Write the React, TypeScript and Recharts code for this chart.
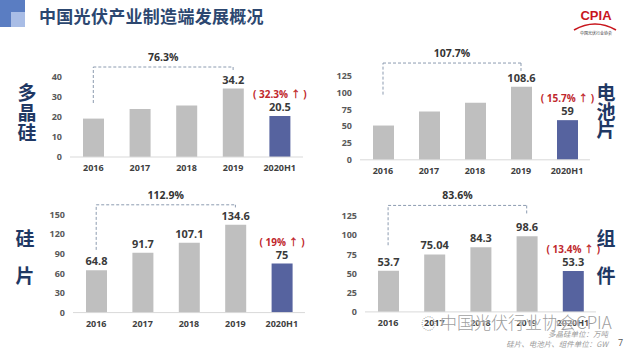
import React from 'react';
import { BarChart, Bar, XAxis, YAxis, Cell, LabelList, ReferenceLine } from 'recharts';

const years = ['2016', '2017', '2018', '2019', '2020H1'];

const polysiliconValues = [19.2, 24, 25.8, 34.2, 20.5];
const polysiliconLabels = [null, null, null, '34.2', '20.5'];
const cellValues = [51, 72, 85, 108.6, 59];
const cellLabels = [null, null, null, '108.6', '59'];
const waferValues = [64.8, 91.7, 107.1, 134.6, 75];
const waferLabels = ['64.8', '91.7', '107.1', '134.6', '75'];
const moduleValues = [53.7, 75.04, 84.3, 98.6, 53.3];
const moduleLabels = ['53.7', '75.04', '84.3', '98.6', '53.3'];

const growthLabels = ['( 32.3% ↑ )', '( 15.7% ↑ )', '( 19% ↑ )', '( 13.4% ↑ )'];
const totalGrowth = ['76.3%', '107.7%', '112.9%', '83.6%'];

const yTicks = [
  [0, 10, 20, 30, 40],
  [0, 25, 50, 75, 100, 125],
  [0, 30, 60, 90, 120, 150],
  [0, 25, 50, 75, 100, 125],
];

// bracket: [top, left end, right end] in value units
const brackets = [
  [45, 27, 43.5],
  [144, 97, 131],
  [165, 96, 161],
  [139, 87, 126],
];

const GRAY = '#bfbfbf';
const BLUE = '#56639f';
const NAVY = '#1f3864';
const FONT = '"Open Sans", "Noto Sans CJK SC", sans-serif';
const CJK = '"Noto Sans CJK SC", sans-serif';

// layout of the four panels (pixel positions of plot area)
const layouts = [
  { plotLeft: 70, plotRight: 303, plotBottom: 157, ppu: 2, max: 50 },
  { plotLeft: 360, plotRight: 590, plotBottom: 160, ppu: 0.672, max: 150 },
  { plotLeft: 73, plotRight: 305, plotBottom: 313, ppu: 0.6533, max: 180 },
  { plotLeft: 365, plotRight: 596, plotBottom: 311.7, ppu: 0.766, max: 150 },
];

const panelValues = [polysiliconValues, cellValues, waferValues, moduleValues];
const panelLabels = [polysiliconLabels, cellLabels, waferLabels, moduleLabels];

// label above a bar, no wrapping
const topLabel = (gap: number, color: string, size: number) => (props: any) => {
  const { x, y, width, value } = props;
  if (value == null) return null;
  return (
    <text
      x={Number(x) + Number(width) / 2}
      y={Number(y) - gap}
      textAnchor="middle"
      fill={color}
      fontSize={size}
      fontWeight={700}
      fontFamily={FONT}
    >
      {value}
    </text>
  );
};

function Panel({ idx }: { idx: number }) {
  const lay = layouts[idx];
  const values = panelValues[idx];
  const labels = panelLabels[idx];
  const data = years.map((y, i) => ({
    year: y,
    value: values[i],
    label: labels[i],
    growth: i === years.length - 1 ? growthLabels[idx] : null,
  }));
  const [top, leftEnd, rightEnd] = brackets[idx];

  const yw = 40;
  const mTop = 30;
  const xh = 20;
  const plotTop = lay.plotBottom - lay.max * lay.ppu;
  const L = lay.plotLeft - yw;
  const W = lay.plotRight - L + 12;
  const T = plotTop - mTop;
  const H = lay.plotBottom + xh + 5 - T;

  const dash = { stroke: '#8c9bb0', strokeDasharray: '3 2', strokeWidth: 1 };

  return (
    <div style={{ position: 'absolute', left: L, top: T }}>
      <BarChart width={W} height={H} data={data} margin={{ top: mTop, right: 12, bottom: 5, left: 0 }}>
        <XAxis
          dataKey="year"
          interval={0}
          height={xh}
          tickLine={false}
          axisLine={{ stroke: '#d9d9d9' }}
          tick={{ fontSize: 9, fill: '#404040', fontWeight: 700, fontFamily: FONT }}
        />
        <YAxis
          width={yw}
          domain={[0, lay.max]}
          ticks={yTicks[idx]}
          axisLine={false}
          tickLine={false}
          tick={{ fontSize: 9, fill: '#595959', fontWeight: 700, fontFamily: FONT }}
        />
        <ReferenceLine
          segment={[{ x: '2016', y: leftEnd }, { x: '2016', y: top }]}
          ifOverflow="visible"
          {...dash}
        />
        <ReferenceLine
          segment={[{ x: '2016', y: top }, { x: '2019', y: top }]}
          ifOverflow="visible"
          {...dash}
          label={{
            value: totalGrowth[idx],
            position: 'top',
            offset: 6,
            fontSize: 10.5,
            fontWeight: 700,
            fill: '#333333',
            fontFamily: FONT,
          }}
        />
        <ReferenceLine
          segment={[{ x: '2019', y: top }, { x: '2019', y: rightEnd }]}
          ifOverflow="visible"
          {...dash}
        />
        <Bar dataKey="value" barSize={21} isAnimationActive={false}>
          {data.map((d, i) => (
            <Cell key={d.year} fill={i === data.length - 1 ? BLUE : GRAY} />
          ))}
          <LabelList dataKey="label" content={topLabel(5, '#3a3a3a', 11)} />
          <LabelList dataKey="growth" content={topLabel(18, '#c0282d', 10)} />
        </Bar>
      </BarChart>
    </div>
  );
}

function SideTitle({ text, x, y, gap }: { text: string; x: number; y: number; gap: number }) {
  return (
    <>
      {text.split('').map((ch, i) => (
        <div
          key={i}
          style={{
            position: 'absolute',
            left: x - 12,
            top: y + i * gap - 12,
            width: 24,
            height: 24,
            lineHeight: '24px',
            textAlign: 'center',
            fontSize: 19,
            fontWeight: 700,
            color: NAVY,
            fontFamily: CJK,
          }}
        >
          {ch}
        </div>
      ))}
    </>
  );
}

export default function App() {
  return (
    <div
      style={{
        position: 'absolute',
        left: 0,
        top: 0,
        width: 630,
        height: 351,
        background: '#ffffff',
        overflow: 'hidden',
        fontFamily: FONT,
      }}
    >
      {/* header decoration */}
      <div style={{ position: 'absolute', left: 0, top: 0, width: 25, height: 27, background: '#5a7dc2' }} />
      <div style={{ position: 'absolute', left: 11, top: 12, width: 14, height: 15, background: '#a9bde6' }} />
      <div
        style={{
          position: 'absolute',
          left: 39,
          top: 5,
          fontSize: 17,
          fontWeight: 700,
          color: '#2c4770',
          fontFamily: CJK,
          lineHeight: '22px',
          letterSpacing: 0.3,
        }}
      >
        中国光伏产业制造端发展概况
      </div>

      {/* CPIA logo */}
      <div
        style={{
          position: 'absolute',
          left: 576,
          top: 9,
          width: 40,
          textAlign: 'center',
          fontSize: 13,
          fontWeight: 700,
          color: '#c8161d',
          fontFamily: '"Liberation Sans Narrow", "Liberation Sans", sans-serif',
          lineHeight: '14px',
        }}
      >
        CPIA
      </div>
      <svg style={{ position: 'absolute', left: 570, top: 20 }} width={50} height={20}>
        <path d="M4 10 Q25 -2 46 10" stroke="#c8161d" strokeWidth={1.6} fill="none" />
      </svg>
      <div
        style={{
          position: 'absolute',
          left: 578,
          top: 30,
          width: 36,
          textAlign: 'center',
          fontSize: 4,
          color: '#333',
          fontFamily: CJK,
          whiteSpace: 'nowrap',
        }}
      >
        中国光伏行业协会
      </div>

      <Panel idx={0} />
      <Panel idx={1} />
      <Panel idx={2} />
      <Panel idx={3} />

      <SideTitle text="多晶硅" x={27} y={92} gap={20} />
      <SideTitle text="电池片" x={606} y={92} gap={18.5} />
      <SideTitle text="硅片" x={25} y={238} gap={37} />
      <SideTitle text="组件" x={606} y={238} gap={37} />

      {/* watermark */}
      <div
        style={{
          position: 'absolute',
          left: 421,
          top: 311,
          fontSize: 17,
          fontWeight: 300,
          color: 'rgba(140,140,140,0.85)',
          fontFamily: CJK,
          lineHeight: '22px',
          whiteSpace: 'nowrap',
          textShadow: '0 0 2px #fff, 0 0 2px #fff',
        }}
      >
        <span style={{ fontSize: 15, marginRight: 4 }}>◌</span>中国光伏行业协会CPIA
      </div>

      <div
        style={{
          position: 'absolute',
          right: 22,
          top: 329,
          fontSize: 7.5,
          fontStyle: 'italic',
          color: '#9a9a9a',
          fontFamily: CJK,
          textAlign: 'right',
          lineHeight: '10px',
          whiteSpace: 'nowrap',
        }}
      >
        多晶硅单位：万吨
        <br />
        硅片、电池片、组件单位：GW
      </div>
      <div
        style={{
          position: 'absolute',
          left: 618,
          top: 336,
          fontSize: 9,
          color: '#555',
          fontFamily: FONT,
        }}
      >
        7
      </div>
    </div>
  );
}
